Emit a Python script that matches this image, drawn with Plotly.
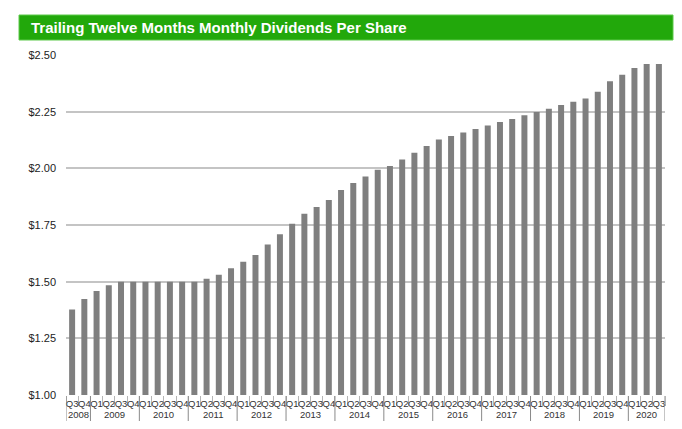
import plotly.graph_objects as go

years = ["2008"] * 2 + [str(y) for y in range(2009, 2020) for _ in range(4)] + ["2020"] * 3
quarters = ["Q3", "Q4"] + ["Q1", "Q2", "Q3", "Q4"] * 11 + ["Q1", "Q2", "Q3"]
dividends = [
    1.377, 1.423,
    1.459, 1.484, 1.500, 1.500,
    1.500, 1.500, 1.500, 1.500,
    1.500, 1.513, 1.530, 1.559,
    1.588, 1.618, 1.664, 1.709,
    1.755, 1.800, 1.829, 1.860,
    1.904, 1.935, 1.964, 1.994,
    2.010, 2.039, 2.069, 2.099,
    2.127, 2.143, 2.158, 2.174,
    2.189, 2.204, 2.218, 2.234,
    2.249, 2.263, 2.279, 2.294,
    2.308, 2.338, 2.384, 2.413,
    2.443, 2.460, 2.460,
]
y_ticks = [1.00, 1.25, 1.50, 1.75, 2.00, 2.25, 2.50]
title_text = "Trailing Twelve Months Monthly Dividends Per Share"

W, H = 682, 429
L, R, T, B = 66, 17, 55, 34
pw, ph = W - L - R, H - T - B


def px_x(px):
    return (px - L) / pw


def px_y(py):
    return (H - B - py) / ph


n = len(dividends)
idx = list(range(n))

# year groups: (label, first index, last index)
groups = []
for i, yv in enumerate(years):
    if groups and groups[-1][0] == yv:
        groups[-1][2] = i
    else:
        groups.append([yv, i, i])

fig = go.Figure(
    go.Bar(
        x=idx,
        y=dividends,
        marker=dict(color="#7f7f7f", line=dict(width=0)),
        hoverinfo="skip",
    )
)

shapes = [
    dict(
        type="rect",
        xref="paper",
        yref="paper",
        x0=px_x(19),
        x1=px_x(673),
        y0=px_y(40),
        y1=px_y(15),
        fillcolor="#22a80b",
        line=dict(color="#5cc94a", width=1),
        layer="above",
    )
]
annotations = [
    dict(
        text="<b>" + title_text + "</b>",
        xref="paper",
        yref="paper",
        x=px_x(29),
        y=px_y(27.5),
        xanchor="left",
        yanchor="middle",
        showarrow=False,
        font=dict(size=15, color="white", family="Liberation Sans, Arial, sans-serif"),
    )
]

# dividers at year boundaries (including both ends)
bounds = [g[1] - 0.5 for g in groups] + [groups[-1][2] + 0.5]
for b in bounds:
    shapes.append(
        dict(
            type="line",
            xref="x",
            yref="paper",
            x0=b,
            x1=b,
            y0=px_y(396),
            y1=px_y(421),
            line=dict(color="#8a8a8a", width=1),
        )
    )
for label, i0, i1 in groups:
    annotations.append(
        dict(
            text=label,
            xref="x",
            yref="paper",
            x=(i0 + i1) / 2,
            y=px_y(414),
            xanchor="center",
            yanchor="middle",
            showarrow=False,
            font=dict(size=9.5, color="#333333"),
        )
    )

fig.update_layout(
    width=W,
    height=H,
    margin=dict(l=L, r=R, t=T, b=B, pad=0),
    paper_bgcolor="white",
    plot_bgcolor="white",
    bargap=0.51,
    showlegend=False,
    font=dict(family="Liberation Sans, Arial, sans-serif", color="#333333"),
    xaxis=dict(
        range=[-0.5, n - 0.5],
        tickmode="array",
        tickvals=idx,
        ticktext=quarters,
        ticks="",
        tickangle=0,
        ticklabelstandoff=1,
        tickfont=dict(size=9.5, color="#333333"),
        minor=dict(
            tickmode="linear",
            tick0=-0.5,
            dtick=1,
            ticks="outside",
            ticklen=10,
            tickcolor="#b5b5b5",
            tickwidth=1,
            showgrid=False,
        ),
        showgrid=False,
        showline=False,
        zeroline=False,
        fixedrange=True,
    ),
    yaxis=dict(
        range=[1.0, 2.5],
        tickvals=y_ticks,
        tickformat="$.2f",
        showgrid=True,
        gridcolor="#c4c4c4",
        gridwidth=1.5,
        zeroline=False,
        showline=False,
        ticks="",
        ticklabelstandoff=9,
        tickfont=dict(size=11, color="#222222"),
    ),
    shapes=shapes,
    annotations=annotations,
)

fig.write_html("out.html")
